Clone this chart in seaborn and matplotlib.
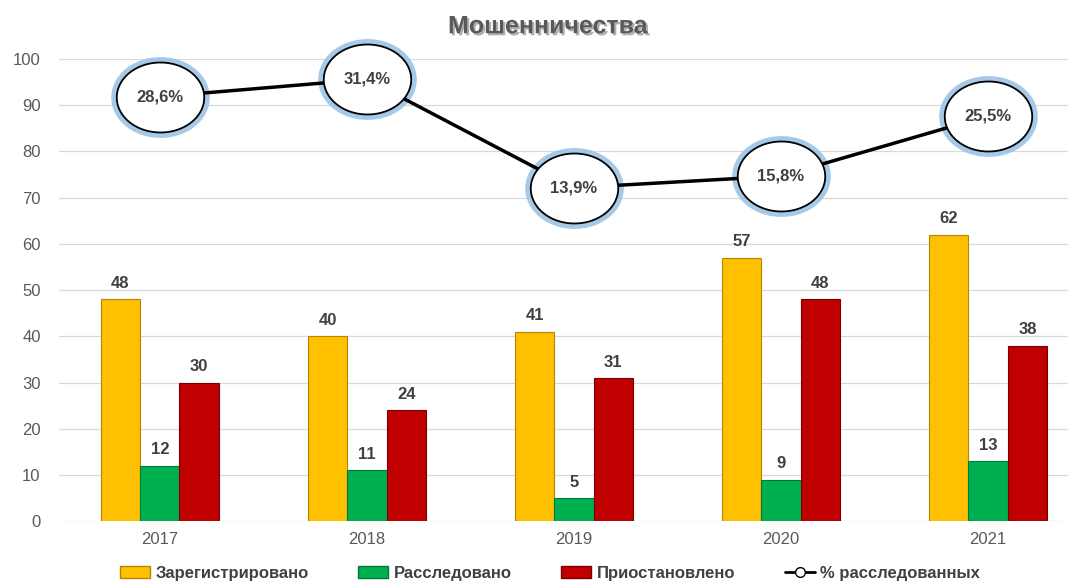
import pandas as pd
import numpy as np
import matplotlib.pyplot as plt
import matplotlib.patheffects as pe
from matplotlib.patches import Patch
from matplotlib.lines import Line2D
from matplotlib.path import Path
import seaborn as sns

years = ['2017', '2018', '2019', '2020', '2021']
registered = [48, 40, 41, 57, 62]
investigated = [12, 11, 5, 9, 13]
suspended = [30, 24, 31, 48, 38]
pct_investigated = [28.6, 31.4, 13.9, 15.8, 25.5]
pct_labels = ['28,6%', '31,4%', '13,9%', '15,8%', '25,5%']

series_names = ['Зарегистрировано', 'Расследовано', 'Приостановлено']
colors = ['#FFC000', '#00B050', '#C00000']
edge_colors = ['#B38600', '#007A38', '#7A0000']

sns.set_theme(style="whitegrid")
plt.rcParams['font.family'] = ['Liberation Sans', 'DejaVu Sans']

df = pd.DataFrame({
    'Год': years * 3,
    'Серия': [s for s in series_names for _ in years],
    'Значение': registered + investigated + suspended,
})

fig = plt.figure(figsize=(10.68, 5.83), dpi=100)
ax = fig.add_axes([0.055, 0.106, 0.945, 0.793])

sns.barplot(data=df, x='Год', y='Значение', hue='Серия', palette=colors,
            width=0.57, gap=0, ax=ax, legend=False, saturation=1)

for cont, ec in zip(ax.containers, edge_colors):
    for bar in cont:
        bar.set_edgecolor(ec)
        bar.set_linewidth(0.8)
    ax.bar_label(cont, padding=6, fontsize=12, fontweight='bold', color='#404040')

ax.set_xlim(-0.488, 4.386)
ax.set_ylim(0, 100)
ax.set_yticks(range(0, 101, 10))
ax.set_xlabel('')
ax.set_ylabel('')
ax.grid(axis='x', visible=False)
ax.grid(axis='y', color='#D9D9D9', linewidth=0.9)
for s in ax.spines.values():
    s.set_visible(False)
ax.tick_params(axis='y', labelsize=12, labelcolor='#595959', length=0, pad=13)
ax.tick_params(axis='x', labelsize=12, labelcolor='#595959', length=0, pad=8)

# линия процентов на скрытой второй оси
ax2 = ax.twinx()
ax2.set_ylim(-39.9, 34.7)
ax2.axis('off')
xpos = np.arange(len(years))

t = np.linspace(0, 2 * np.pi, 73)
ellipse = Path(np.column_stack([np.cos(t), 0.8 * np.sin(t)]), closed=True)

ax2.plot(xpos, pct_investigated, linestyle='none', marker=ellipse, markersize=64,
         markerfacecolor='white', markeredgecolor='#9DC3E6', markeredgewidth=7,
         alpha=0.9, zorder=2)
sns.lineplot(x=xpos, y=pct_investigated, ax=ax2, color='black', linewidth=2.5,
             marker=ellipse, markersize=63, markerfacecolor='white',
             markeredgecolor='black', markeredgewidth=1.3, zorder=3)
for ln in ax2.lines:
    ln.set_clip_on(False)
for x, y, lab in zip(xpos, pct_investigated, pct_labels):
    ax2.text(x, y, lab, ha='center', va='center', fontsize=12, fontweight='bold',
             color='#404040', zorder=5)

fig.text(0.513, 0.955, 'Мошенничества', ha='center', va='center', fontsize=18,
         fontweight='bold', color='#595959',
         path_effects=[pe.withSimplePatchShadow(offset=(1.5, -1.5), alpha=0.35)])

handles = [Patch(facecolor=c, edgecolor=e) for c, e in zip(colors, edge_colors)]
handles.append(Line2D([0], [0], color='black', linewidth=2, marker='o',
                      markerfacecolor='white', markeredgecolor='black', markersize=7))
fig.legend(handles, series_names + ['% расследованных'], loc='center',
           bbox_to_anchor=(0.515, 0.017), ncol=4, frameon=False,
           prop={'weight': 'bold', 'size': 12}, columnspacing=3.0, handlelength=1.8,
           handletextpad=0.3)
for t in fig.legends[0].get_texts():
    t.set_color('#404040')

fig.savefig('out.png', dpi=100)
